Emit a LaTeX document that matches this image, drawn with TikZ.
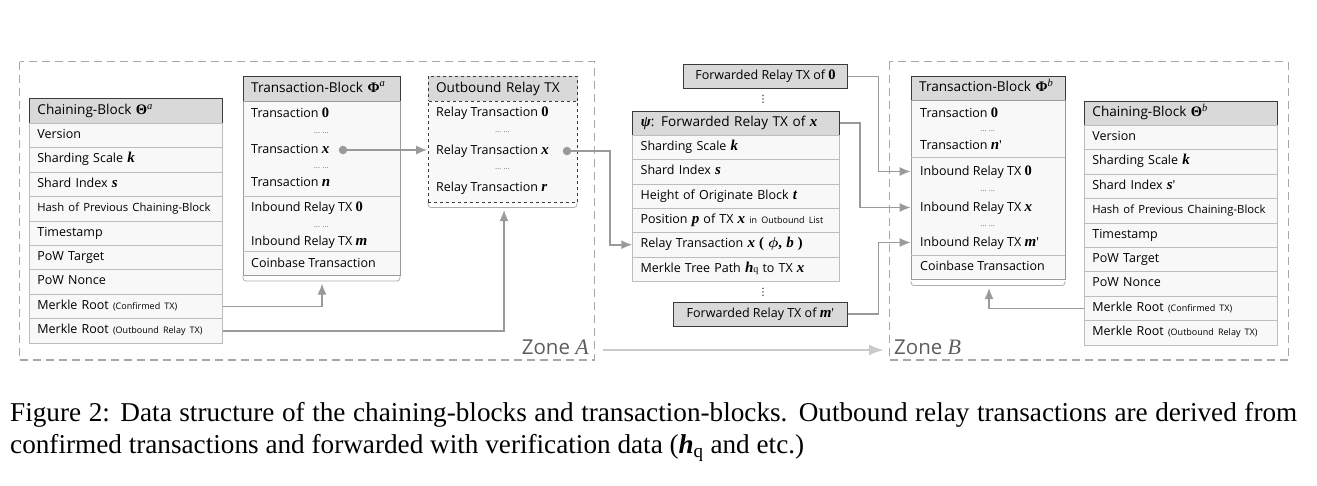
\documentclass[tikz,border=0pt]{standalone}
\usepackage{fontspec}
\usepackage{bm}
\setmainfont{Liberation Serif}
\newfontfamily\boxfont{Open Sans}
\newfontfamily\vf{Liberation Serif}
\newfontfamily\symfont{DejaVu Sans}
\usetikzlibrary{arrows.meta}
\definecolor{hdrfill}{HTML}{D9D9D9}
\definecolor{rowfill}{HTML}{F8F8F8}
\definecolor{rowline}{HTML}{BDBDBD}
\definecolor{boxline}{HTML}{9A9A9A}
\definecolor{darkline}{HTML}{3A3A3A}
\definecolor{conn}{HTML}{9A9A9A}
\definecolor{zonec}{HTML}{A8A8A8}
\definecolor{zonetext}{HTML}{5E5E5E}
\definecolor{bigarrow}{HTML}{CACACA}
\newcommand\V[1]{{\vf\bfseries\itshape\fontsize{15}{15}\selectfont #1}}
\newcommand\NB[1]{{\vf\bfseries\fontsize{14.5}{15}\selectfont #1}}
\newcommand\SUP[1]{\textsuperscript{\vf\itshape\fontsize{10.5}{11}\selectfont #1}}
\newcommand\sml[1]{{\fontsize{9}{10}\selectfont #1}}
\newcommand\hashfont{\fontsize{11.3}{13}\selectfont}
\tikzset{
  cellfont/.style={font=\boxfont\fontsize{12.5}{14}\selectfont},
  hdrfont/.style={font=\boxfont\fontsize{13.6}{15}\selectfont},
  hdrcell/.style={hdrfont, draw=darkline, fill=hdrfill, line width=0.9pt, anchor=north west,
    inner xsep=8pt, inner ysep=0pt, align=left, text height=10pt, text depth=3pt},
  rowcell/.style={cellfont, draw=rowline, fill=rowfill, line width=0.7pt, anchor=north west,
    inner xsep=8pt, inner ysep=0pt, align=left, text height=9pt, text depth=3pt},
  bodybox/.style={draw=boxline, fill=rowfill, line width=0.8pt, anchor=north west, inner sep=0pt},
  entry/.style={cellfont, anchor=west, inner sep=0pt, text height=9pt, text depth=3pt},
  ddots/.style={font=\boxfont\fontsize{8}{8}\selectfont, text=black!55, inner sep=0pt, text height=3pt, text depth=0pt},
  fwd/.style={cellfont, draw=darkline, fill=hdrfill, line width=0.9pt, anchor=north west,
    inner sep=0pt, text height=9pt, text depth=3pt},
  conn/.style={draw=conn, line width=1.6pt},
  tip/.style={-{Latex[length=11pt,width=9pt]}},
  cdot/.style={circle, fill=conn, minimum size=8.5pt, inner sep=0pt},
  brace/.style={draw=boxline!80, line width=0.8pt, rounded corners=3pt},
  zone/.style={draw=zonec, line width=1.4pt, dash pattern=on 8pt off 5pt},
  zonelabel/.style={font=\boxfont\fontsize{20.5}{22}\selectfont, text=zonetext, inner sep=0pt},
  vdotsn/.style={inner sep=0pt, font=\symfont\fontsize{10}{10}\selectfont, text height=8pt, text depth=1pt},
}
\begin{document}
\begin{tikzpicture}[x=1pt,y=-1pt]
\useasboundingbox (0,0) rectangle (1317,485);

% zones
\draw[zone] (19.5,61.5) rectangle (594.3,360);
\draw[zone] (889.3,61.5) rectangle (1288.3,360);
\node[zonelabel, anchor=east] (zA) at (589,347) {Zone {\vf\itshape\fontsize{22}{22}\selectfont A}};
\node[zonelabel, anchor=west] (zB) at (894,347) {Zone {\vf\itshape\fontsize{22}{22}\selectfont B}};
\coordinate (bigS) at (603,350);
\coordinate (bigE) at (884,350);
\draw[draw=bigarrow, line width=2.2pt, -{Latex[length=15pt,width=11pt]}] (bigS) -- (bigE);

% ---------------- Chaining-Block A
\node[hdrcell, text width=177pt, minimum height=25pt] (cbA) at (29,98) {Chaining-Block \NB{Θ}\SUP{a}};
\foreach \t [count=\i] in {Version, {Sharding Scale \V{k}}, {Shard Index \V{s}},
  {{\hashfont Hash of Previous Chaining-Block}}, Timestamp, {PoW Target}, {PoW Nonce},
  {Merkle Root \sml{(Confirmed TX)}}, {Merkle Root \sml{(Outbound Relay TX)}}}
  \node[rowcell, text width=177pt, minimum height=24.4pt] (cbA\i) at (29,{123+24.4*(\i-1)}) {\t};

% ---------------- Transaction-Block A
\node[hdrcell, text width=141.3pt, minimum height=25pt] (tbA) at (242.7,75.7) {Transaction-Block \NB{Φ}\SUP{a}};
\node[bodybox, minimum width=157.3pt, minimum height=174.3pt] (tbAb) at (242.7,100.7) {};
\draw[rowline, line width=0.8pt] (242.7,196.7) -- (400,196.7);
\draw[rowline, line width=0.8pt] (242.7,251.7) -- (400,251.7);
\node[entry] (tA0) at (251,114) {Transaction \NB{0}};
\node[ddots] at (321.3,132) {… …};
\node[entry] (tAx) at (251,150) {Transaction \V{x}};
\node[ddots] at (321.3,167) {… …};
\node[entry] (tAn) at (251,183) {Transaction \V{n}};
\node[entry] (iA0) at (251,208) {Inbound Relay TX \NB{0}};
\node[ddots] at (321.3,226) {… …};
\node[entry] (iAm) at (251,242.5) {Inbound Relay TX \V{m}};
\node[entry] (cAt) at (251,264) {Coinbase Transaction};
\draw[brace] (243,276) -- (243,281) -- (400,281) -- (400,276);
\coordinate (braceA) at (322,283.5);

% ---------------- Outbound Relay TX
\node[hdrcell, dashed, text width=133.6pt, minimum height=25pt] (obA) at (427.7,75.7) {Outbound Relay TX};
\node[bodybox, draw=darkline, dashed, minimum width=149.6pt, minimum height=101pt] (obAb) at (427.7,100.7) {};
\node[entry] (rA0) at (436,113) {Relay Transaction \NB{0}};
\node[ddots] at (502.5,131) {… …};
\node[entry] (rAx) at (436,151) {Relay Transaction \V{x}};
\node[ddots] at (502.5,168) {… …};
\node[entry] (rAr) at (436,188) {Relay Transaction \V{r}};
\draw[brace] (428,203) -- (428,207.5) -- (577,207.5) -- (577,203);
\coordinate (braceO) at (504,210);

% connectors zone A
\node[cdot] (dA) at (343,150) {};
\coordinate (obIn) at (427.2,150);
\draw[conn, tip] (dA.center) -- (obIn);
\draw[conn, tip] (cbA8.east) -| (braceA);
\draw[conn, tip] (cbA9.east) -| (braceO);

% ---------------- Forwarded relay
\node[fwd, minimum width=164pt, minimum height=24pt] (f0) at (683,64.3) {Forwarded Relay TX of \NB{0}};
\node[vdotsn] (vd1) at (763,98.5) {⋮};
\node[hdrcell, text width=191pt, minimum height=24.3pt] (psi) at (632.3,110.7) {\V{ψ}: Forwarded Relay TX of \V{x}};
\foreach \t [count=\i] in {{Sharding Scale \V{k}}, {Shard Index \V{s}}, {Height of Originate Block \V{t}},
  {Position \V{p} of TX \V{x} \sml{in Outbound List}},
  {Relay Transaction \V{x} \NB{(} {\fontsize{15}{15}\selectfont$\bm{\phi}$}\NB{,} \V{b} \NB{)}},
  {Merkle Tree Path \V{h}{\vf\fontsize{10}{10}\selectfont q} to TX \V{x}}}
  \node[rowcell, text width=191pt, minimum height=24.3pt] (psi\i) at (632.3,{135+24.3*(\i-1)}) {\t};
\node[vdotsn] (vd2) at (763,291.5) {⋮};
\node[fwd, minimum width=174.6pt, minimum height=24pt] (fm) at (672.7,301.7) {Forwarded Relay TX of \V{m}'};

\node[cdot] (dO) at (567,151) {};
\coordinate (bendO) at (610,151);
\draw[conn, tip] (dO.center) -- (bendO) |- (psi5.west);

% ---------------- Transaction-Block B
\node[hdrcell, text width=138.3pt, minimum height=24.3pt] (tbB) at (910.7,75.7) {Transaction-Block \NB{Φ}\SUP{b}};
\node[bodybox, minimum width=154.3pt, minimum height=179pt] (tbBb) at (910.7,100) {};
\draw[rowline, line width=0.8pt] (910.7,157.7) -- (1065,157.7);
\draw[rowline, line width=0.8pt] (910.7,255) -- (1065,255);
\node[entry] (tB0) at (920,114) {Transaction \NB{0}};
\node[ddots] at (987.8,130) {… …};
\node[entry] (tBn) at (920,146) {Transaction \V{n}'};
\node[entry] (iB0) at (920,172) {Inbound Relay TX \NB{0}};
\node[ddots] at (987.8,189.5) {… …};
\node[entry] (iBx) at (920,208.3) {Inbound Relay TX \V{x}};
\node[ddots] at (987.8,225) {… …};
\node[entry] (iBm) at (920,243.3) {Inbound Relay TX \V{m}'};
\node[entry] (cBt) at (920,267.3) {Coinbase Transaction};
\draw[brace] (911,281) -- (911,285.5) -- (1065,285.5) -- (1065,281);
\coordinate (braceB) at (989,288);
\coordinate (inB0) at (910.7,171.5);
\coordinate (inBx) at (910.7,207.5);
\coordinate (inBm) at (910.7,242.5);
\coordinate (bend0) at (878.3,76.3);
\coordinate (bendx) at (860,123);
\coordinate (bendm) at (878.3,313.7);

\draw[conn, tip] (f0.east |- bend0) -- (bend0) |- (inB0);
\draw[conn, tip] (psi.east |- bendx) -- (bendx) |- (inBx);
\draw[conn, tip] (fm.east |- bendm) -- (bendm) |- (inBm);

% ---------------- Chaining-Block B
\node[hdrcell, text width=176.7pt, minimum height=24.3pt] (cbB) at (1084,100.7) {Chaining-Block \NB{Θ}\SUP{b}};
\foreach \t [count=\i] in {Version, {Sharding Scale \V{k}}, {Shard Index \V{s}'},
  {{\hashfont Hash of Previous Chaining-Block}}, Timestamp, {PoW Target}, {PoW Nonce},
  {Merkle Root \sml{(Confirmed TX)}}, {Merkle Root \sml{(Outbound Relay TX)}}}
  \node[rowcell, text width=176.7pt, minimum height=24.4pt] (cbB\i) at (1084,{125+24.4*(\i-1)}) {\t};
\draw[conn, tip] (cbB8.west) -| (braceB);

% ---------------- caption
\node[anchor=base west, inner sep=0pt, font=\fontsize{27.2}{32}\selectfont] (cap1) at (10,421.7)
  {\makebox[1287pt][s]{Figure 2: Data structure of the chaining-blocks and transaction-blocks. Outbound relay transactions are derived from}};
\node[anchor=base west, inner sep=0pt, font=\fontsize{27.2}{32}\selectfont] (cap2) at (10,453.3)
  {confirmed transactions and forwarded with verification data (\textbf{\textit{h}}\textsubscript{q} and etc.)};
\end{tikzpicture}
\end{document}
